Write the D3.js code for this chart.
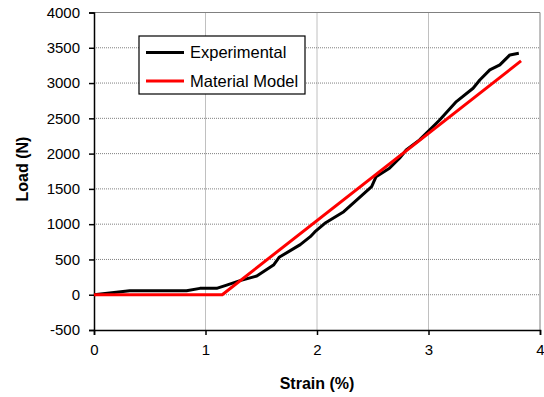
<!DOCTYPE html>
<html>
<head>
<meta charset="utf-8">
<script src="https://cdn.jsdelivr.net/npm/d3@7"></script>
<style>
  body { margin: 0; background: #fff; }
  text { font-family: "Liberation Sans", Arial, sans-serif; fill: #000; }
</style>
</head>
<body>
<div id="chart"></div>
<script>
// Strain (%) and load (N)
let expStrain = [0, 0.32, 0.83, 0.95, 1.10, 1.19, 1.31, 1.46, 1.61, 1.66, 1.85, 1.94, 1.98, 2.07, 2.24, 2.39, 2.49, 2.53, 2.65, 2.74, 2.80, 2.92, 3.10, 3.25, 3.40, 3.46, 3.55, 3.64, 3.73, 3.81];
let expLoad   = [0, 57, 57, 90, 90, 137, 200, 265, 421, 530, 710, 823, 890, 1012, 1177, 1390, 1531, 1673, 1792, 1934, 2052, 2194, 2477, 2737, 2927, 3044, 3186, 3257, 3399, 3423];

let modelStrain = [0, 1.15, 3.83];
let modelLoad   = [0, 0, 3314];

let xTicks = [0, 1, 2, 3, 4];
let yTicks = [-500, 0, 500, 1000, 1500, 2000, 2500, 3000, 3500, 4000];

let seriesNames = ["Experimental", "Material Model"];
let colors = ["#000000", "#ff0000"];

//Width and Height
let width = 544;
let height = 397;
let plotLeft = 94, plotRight = 540, plotTop = 12.5, plotBottom = 330;

let x = d3.scaleLinear().domain([0, 4]).range([plotLeft, plotRight]);
let y = d3.scaleLinear().domain([-500, 4000]).range([plotBottom, plotTop]);

let svg = d3.select("#chart")
  .append("svg")
  .attr("width", width)
  .attr("height", height);

//Grid (incl. top and right border)
let grid = svg.append("g").attr("class", "grid");
grid.selectAll("line.h")
  .data(yTicks.filter(d => d > -500))
  .enter()
  .append("line")
  .attr("x1", plotLeft).attr("x2", plotRight)
  .attr("y1", d => y(d)).attr("y2", d => y(d))
  .attr("stroke", "#808080")
  .attr("stroke-dasharray", d => d == 4000 ? null : "1,1");
grid.selectAll("line.v")
  .data(xTicks.filter(d => d > 0))
  .enter()
  .append("line")
  .attr("y1", plotTop).attr("y2", plotBottom)
  .attr("x1", d => x(d)).attr("x2", d => x(d))
  .attr("stroke", "#808080")
  .attr("stroke-dasharray", d => d == 4 ? null : "1,1");

//Axes
let xAxis = svg.append("g")
  .attr("transform", "translate(0," + plotBottom + ")")
  .call(d3.axisBottom(x).tickValues(xTicks).tickSize(5).tickPadding(9).tickFormat(d => String(d)));
let yAxis = svg.append("g")
  .attr("transform", "translate(" + plotLeft + ",0)")
  .call(d3.axisLeft(y).tickValues(yTicks).tickSize(5).tickPadding(9).tickFormat(d => String(d)));

[xAxis, yAxis].forEach(function(a) {
  a.select(".domain").attr("stroke", "#000").attr("stroke-width", 1.5);
  a.selectAll(".tick line").attr("stroke", "#000").attr("stroke-width", 1.5);
  a.selectAll("text")
    .style("font-family", "'Liberation Sans', Arial, sans-serif")
    .style("font-size", "15px")
    .attr("fill", "#000");
});

//Lines
let line = d3.line().x(d => x(d[0])).y(d => y(d[1]));
let series = [
  d3.zip(expStrain, expLoad),
  d3.zip(modelStrain, modelLoad)
];
svg.append("g")
  .selectAll("path")
  .data(series)
  .enter()
  .append("path")
  .attr("d", line)
  .attr("fill", "none")
  .attr("stroke", (d, i) => colors[i])
  .attr("stroke-width", 3)
  .attr("stroke-linejoin", "round");

//Axis titles
svg.append("text")
  .attr("x", x(2))
  .attr("y", 389)
  .attr("text-anchor", "middle")
  .style("font-size", "16px")
  .style("font-weight", "bold")
  .text("Strain (%)");

svg.append("text")
  .attr("transform", "translate(28,169) rotate(-90)")
  .attr("text-anchor", "middle")
  .style("font-size", "16px")
  .style("font-weight", "bold")
  .text("Load (N)");

//Legend
let legend = svg.append("g").attr("class", "legend");
legend.append("rect")
  .attr("x", 139).attr("y", 36)
  .attr("width", 166).attr("height", 58)
  .attr("fill", "#fff")
  .attr("stroke", "#000")
  .attr("stroke-width", 1.2);
let items = legend.selectAll("g.item")
  .data(seriesNames)
  .enter()
  .append("g")
  .attr("transform", (d, i) => "translate(0," + (52.5 + i * 28.5) + ")");
items.append("line")
  .attr("x1", 146).attr("x2", 184)
  .attr("stroke", (d, i) => colors[i])
  .attr("stroke-width", 3);
items.append("text")
  .attr("x", 190)
  .attr("dy", "0.36em")
  .style("font-size", "16.5px")
  .text(d => d);
</script>
</body>
</html>
